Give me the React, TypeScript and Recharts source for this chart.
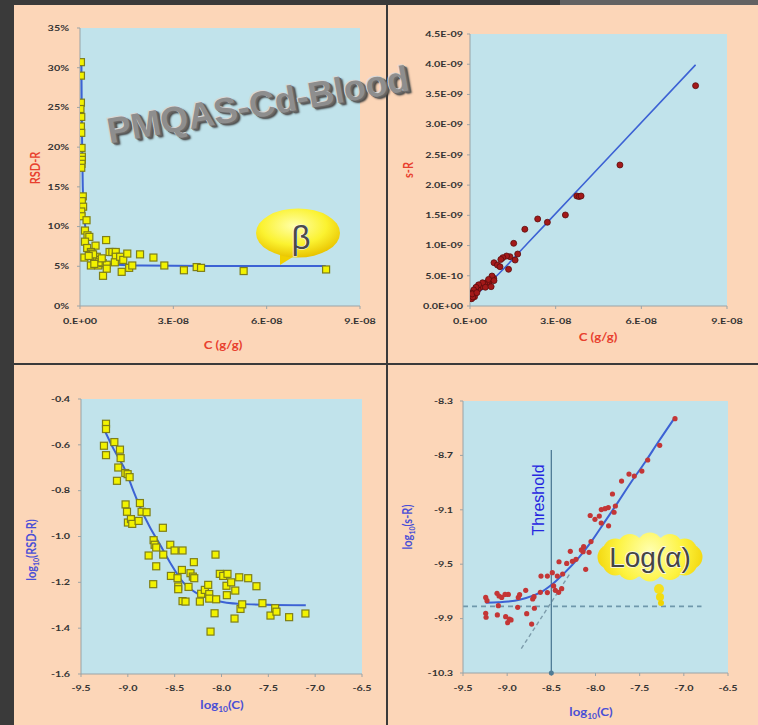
import React from 'react';
import { ScatterChart, Scatter, XAxis, YAxis, CartesianGrid, ReferenceLine, ReferenceDot } from 'recharts';

// ---------- DATA ----------
// Panel 1: C (in units of 1e-9 g/g) vs RSD-R (%)
const rsdPoints: number[][] = [
  [0.3, 30.7], [0.3, 29.0], [0.3, 25.6], [0.15, 24.8], [0.4, 23.8], [0.3, 22.6], [0.4, 21.8], [0.5, 19.9],
  [0.6, 18.8], [0.6, 18.4], [0.5, 17.9], [0.4, 17.4], [0.9, 13.8], [0.6, 13.2], [1.0, 12.5], [0.4, 11.9],
  [0.5, 11.3], [2.1, 10.8], [1.6, 9.5], [2.4, 8.9], [3.0, 8.7], [1.6, 8.1], [8.4, 8.3], [5.0, 7.6],
  [2.3, 7.3], [3.5, 6.8], [1.4, 6.1], [3.8, 6.6], [4.5, 5.9], [5.4, 6.2], [6.4, 5.8], [3.5, 5.1],
  [5.9, 5.1], [7.3, 5.4], [8.6, 5.2], [7.4, 3.8], [8.6, 4.7], [9.5, 6.8], [10.4, 6.8], [11.5, 6.8],
  [11.5, 6.2], [11.2, 5.5], [12.9, 6.2], [13.9, 5.8], [15.2, 6.6], [13.4, 4.3], [15.8, 4.8], [16.8, 5.1],
  [19.3, 6.5], [23.6, 6.1], [27.1, 5.1], [33.4, 4.5], [37.5, 4.9], [38.9, 4.8], [52.6, 4.4], [79.1, 4.6],
  [4.2, 6.5], [6.0, 5.5], [2.8, 6.3], [4.6, 5.3], [7.0, 6.0],
];
const rsdCurve: number[][] = [
  [0.45, 30.6], [0.55, 25], [0.7, 20], [0.9, 15], [1.2, 12], [1.7, 10], [2.3, 8.5], [3, 7.4], [4.5, 6.1],
  [7, 5.5], [12, 5.2], [20, 5.1], [40, 5.05], [79, 5.05],
];

// Panel 2: C (1e-9 g/g) vs s-R (1e-9 g/g)
const sPoints: number[][] = [
  [79.0, 3.645], [52.5, 2.333], [37.4, 1.82], [38.2, 1.81], [38.9, 1.82], [33.4, 1.506], [27.1, 1.385],
  [23.7, 1.44], [19.2, 1.27], [15.3, 1.037], [16.7, 0.86], [15.8, 0.76], [13.5, 0.607], [14.0, 0.816],
  [12.8, 0.827], [11.5, 0.80], [10.8, 0.77], [8.4, 0.716], [9.6, 0.678], [10.5, 0.65],
  [8.3, 0.458], [7.5, 0.43], [6.8, 0.40], [6.0, 0.39], [5.1, 0.364], [4.2, 0.331], [3.6, 0.309],
  [2.8, 0.276], [1.9, 0.253], [1.3, 0.22], [0.7, 0.182], [0.5, 0.144], [0.3, 0.127], [7.7, 0.496],
  [6.5, 0.44], [4.4, 0.385], [5.4, 0.31], [3.0, 0.35], [2.1, 0.31], [1.3, 0.265], [0.5, 0.21],
  [1.6, 0.154], [0.4, 0.17], [0.6, 0.12], [1.0, 0.15], [0.8, 0.2], [2.4, 0.22], [7.4, 0.32], [8.4, 0.42],
];
const sLine: number[][] = [[0.3, 0.16], [3, 0.23], [6, 0.35], [10, 0.53], [20, 1.03], [40, 2.03], [79, 3.99]];

// Panel 3: log10(C) vs log10(RSD-R)
const logRsdPoints: number[][] = [
  [-9.233, -0.508], [-9.233, -0.531], [-9.255, -0.604], [-9.233, -0.645], [-9.144, -0.588], [-9.084, -0.621],
  [-9.077, -0.658], [-9.102, -0.699], [-9.116, -0.757], [-9.027, -0.723], [-9.002, -0.728], [-8.981, -0.741],
  [-9.024, -0.860], [-9.009, -0.892], [-8.999, -0.939], [-8.967, -0.924], [-8.953, -0.945], [-8.885, -0.932],
  [-8.871, -0.854], [-8.853, -0.892], [-8.800, -0.894], [-8.626, -0.962], [-8.725, -1.016], [-8.714, -1.036],
  [-8.697, -1.048], [-8.778, -1.083], [-8.622, -1.079], [-8.697, -1.130], [-8.729, -1.208], [-8.547, -1.036],
  [-8.501, -1.061], [-8.416, -1.061], [-8.540, -1.172], [-8.469, -1.182], [-8.462, -1.218], [-8.462, -1.230],
  [-8.423, -1.146], [-8.416, -1.282], [-8.384, -1.284], [-8.352, -1.220], [-8.331, -1.160], [-8.306, -1.175],
  [-8.291, -1.182], [-8.295, -1.112], [-8.231, -1.284], [-8.217, -1.250], [-8.178, -1.233], [-8.142, -1.211],
  [-8.131, -1.251], [-8.131, -1.271], [-8.117, -1.415], [-8.074, -1.335], [-8.057, -1.274], [-8.064, -1.079],
  [-8.018, -1.163], [-7.982, -1.172], [-7.936, -1.163], [-7.947, -1.215], [-7.897, -1.200], [-7.943, -1.256],
  [-7.853, -1.236], [-7.861, -1.358], [-7.811, -1.178], [-7.797, -1.316], [-7.779, -1.296], [-7.715, -1.182],
  [-7.627, -1.217], [-7.563, -1.291], [-7.477, -1.345], [-7.427, -1.313], [-7.413, -1.328], [-7.278, -1.352],
  [-7.104, -1.336],
];
const logRsdCurve: number[][] = [
  [-9.251, -0.534], [-9.15, -0.62], [-9.013, -0.723], [-8.942, -0.800], [-8.871, -0.870], [-8.764, -0.960],
  [-8.657, -1.035], [-8.551, -1.112], [-8.409, -1.200], [-8.231, -1.255], [-8.053, -1.280], [-7.804, -1.294],
  [-7.52, -1.298], [-7.10, -1.300],
];

// Panel 4: log10(C) vs log10(s-R)
const logSPoints: number[][] = [
  [-7.100, -8.430], [-7.273, -8.626], [-7.409, -8.734], [-7.475, -8.815], [-7.561, -8.852], [-7.621, -8.837],
  [-7.705, -8.889], [-7.808, -8.984], [-7.775, -9.072], [-7.855, -9.084], [-7.892, -9.092], [-7.934, -9.098],
  [-7.790, -9.118], [-7.852, -9.218], [-7.935, -9.197], [-7.957, -9.146], [-8.006, -9.170], [-8.060, -9.142],
  [-8.051, -9.334], [-8.073, -9.413], [-8.134, -9.371], [-8.141, -9.408], [-8.160, -9.395], [-8.111, -9.538],
  [-8.221, -9.464], [-8.262, -9.479], [-8.285, -9.405], [-8.326, -9.494], [-8.413, -9.482], [-8.372, -9.572],
  [-8.432, -9.587], [-8.489, -9.562], [-8.545, -9.587], [-8.617, -9.587], [-8.383, -9.680], [-8.417, -9.707],
  [-8.455, -9.692], [-8.474, -9.660], [-8.545, -9.709], [-8.624, -9.707], [-8.711, -9.756], [-8.696, -9.739],
  [-8.790, -9.692], [-8.859, -9.724], [-8.874, -9.744], [-8.987, -9.722], [-9.024, -9.722], [-9.062, -9.744],
  [-9.092, -9.734], [-9.115, -9.714], [-9.228, -9.768], [-9.243, -9.744],
  [-9.243, -9.861], [-9.239, -9.890], [-9.111, -9.873], [-9.100, -9.805], [-9.017, -9.886], [-8.994, -9.930],
  [-8.975, -9.903], [-8.956, -9.910], [-8.881, -9.817], [-8.779, -9.864], [-8.723, -9.940], [-8.692, -9.824],
];
const logSCurve: number[][] = [
  [-9.243, -9.783], [-9.1, -9.780], [-8.987, -9.775], [-8.85, -9.760], [-8.723, -9.735], [-8.6, -9.700],
  [-8.534, -9.670], [-8.45, -9.625], [-8.345, -9.560], [-8.194, -9.455], [-8.043, -9.330], [-7.892, -9.185],
  [-7.741, -9.040], [-7.59, -8.890], [-7.439, -8.750], [-7.288, -8.600], [-7.1, -8.420],
];
const thresholdLine = [{ x: -8.5, y: -8.66 }, { x: -8.5, y: -10.3 }];
const alphaLevelLine = [{ x: -9.5, y: -9.81 }, { x: -6.8, y: -9.81 }];
const betaSlopeLine = [{ x: -8.84, y: -10.12 }, { x: -8.29, y: -9.57 }];

// ticks
const linXTicks = [0, 30, 60, 90];
const linXLabels = ['0.E+00', '3.E-08', '6.E-08', '9.E-08'];
const rsdYTicks = [0, 5, 10, 15, 20, 25, 30, 35];
const rsdYLabels = ['0%', '5%', '10%', '15%', '20%', '25%', '30%', '35%'];
const sYTicks = [0, 0.5, 1, 1.5, 2, 2.5, 3, 3.5, 4, 4.5];
const sYLabels = ['0.0E+00', '5.0E-10', '1.0E-09', '1.5E-09', '2.0E-09', '2.5E-09', '3.0E-09', '3.5E-09', '4.0E-09', '4.5E-09'];
const logXTicks = [-9.5, -9, -8.5, -8, -7.5, -7, -6.5];
const logXLabels = ['-9.5', '-9.0', '-8.5', '-8.0', '-7.5', '-7.0', '-6.5'];
const logRsdYTicks = [-1.6, -1.4, -1.2, -1.0, -0.8, -0.6, -0.4];
const logRsdYLabels = ['-1.6', '-1.4', '-1.2', '-1.0', '-0.8', '-0.6', '-0.4'];
const logSYTicks = [-10.3, -9.9, -9.5, -9.1, -8.7, -8.3];
const logSYLabels = ['-10.3', '-9.9', '-9.5', '-9.1', '-8.7', '-8.3'];

// ---------- STYLE ----------
const PEACH = '#fcd6b8';
const PLOT_BG = '#c1e3eb';
const DARK = '#3a3a3a';
const AXIS = '#9aa3a6';
const TICK_FONT = 'Lato, "Open Sans", sans-serif';
const RED_T = '#e8402e';
const BLUE_T = '#4a4fd6';
const CURVE = '#3c62d4';

const toXY = (arr: number[][]) => arr.map(([x, y]) => ({ x, y }));

const makeTick = (ticks: number[], labels: string[], anchor: 'middle' | 'end') => (props: any) => {
  const { x, y, payload } = props;
  const i = ticks.findIndex((t) => Math.abs(t - payload.value) < 1e-9);
  return (
    <g transform={`translate(${x},${y})`}>
      <text transform="scale(1.35,1)" textAnchor={anchor} dy="0.35em" fontFamily={TICK_FONT}
        fontSize={8} fontWeight={700} fill="#333">
        {i >= 0 ? labels[i] : String(payload.value)}
      </text>
    </g>
  );
};

const squareShape = (props: any) => (
  <rect x={props.cx - 3.5} y={props.cy - 3.5} width={7} height={7} fill="#f2f200" stroke="#7f7f18" strokeWidth={1.2} />
);
const bigDot = (props: any) => (
  <circle cx={props.cx} cy={props.cy} r={3} fill="#a31919" stroke="#5c0c0c" strokeWidth={0.8} />
);
const smallDot = (props: any) => <circle cx={props.cx} cy={props.cy} r={2.6} fill="#c43636" />;
const noShape = () => <g />;

type PanelProps = {
  left: number; top: number; width: number; height: number;
  margin: { top: number; right: number; left: number; bottom: number };
  yWidth: number; xHeight: number;
  xDomain: number[]; yDomain: number[];
  xTicks: number[]; xLabels: string[]; yTicks: number[]; yLabels: string[];
  xTickMargin: number; yTickMargin: number;
  children?: React.ReactNode; overlay?: React.ReactNode;
};

function ChartPanel(p: PanelProps) {
  return (
    <div style={{ position: 'absolute', left: p.left, top: p.top, width: p.width, height: p.height, background: PEACH, overflow: 'hidden' }}>
      <ScatterChart width={p.width} height={p.height} margin={p.margin}>
        <CartesianGrid fill={PLOT_BG} stroke="none" horizontal={false} vertical={false} />
        <XAxis type="number" dataKey="x" domain={p.xDomain} ticks={p.xTicks} interval={0} height={p.xHeight}
          allowDataOverflow stroke={AXIS} tickSize={3} tickMargin={p.xTickMargin}
          tick={makeTick(p.xTicks, p.xLabels, 'middle')} />
        <YAxis type="number" dataKey="y" domain={p.yDomain} ticks={p.yTicks} interval={0} width={p.yWidth}
          allowDataOverflow stroke={AXIS} tickSize={3} tickMargin={p.yTickMargin}
          tick={makeTick(p.yTicks, p.yLabels, 'end')} />
        {p.children}
      </ScatterChart>
      {p.overlay}
    </div>
  );
}

const titleStyle = (x: number, y: number, color: string, rotate: boolean): React.CSSProperties => ({
  position: 'absolute', left: x, top: y, color, fontFamily: TICK_FONT, fontWeight: 700, fontSize: 11,
  whiteSpace: 'nowrap', lineHeight: '12px',
  transform: rotate ? 'translate(-50%,-50%) rotate(-90deg) scaleY(1.15)' : 'translate(-50%,-50%) scaleX(1.2)',
});
const subStyle: React.CSSProperties = { fontSize: 7, verticalAlign: 'baseline', position: 'relative', top: 3 };

function BetaBubble() {
  return (
    <svg width={372} height={358} style={{ position: 'absolute', left: 0, top: 0, pointerEvents: 'none' }}>
      <defs>
        <radialGradient id="betaGrad" cx="45%" cy="35%" r="65%">
          <stop offset="0%" stopColor="#ffffa8" />
          <stop offset="60%" stopColor="#fbf230" />
          <stop offset="100%" stopColor="#e9c400" />
        </radialGradient>
      </defs>
      <path d="M 266 244 L 266 260 L 282 250 Z" fill="#f0d000" />
      <ellipse cx={284} cy={228} rx={42} ry={24.5} fill="url(#betaGrad)" />
      <text x={287} y={232} textAnchor="middle" dominantBaseline="central" fontFamily='"Liberation Sans", Arial, sans-serif'
        fontSize={33} fill="#4a4a4a" stroke="#f4f4f4" strokeWidth={1.2} paintOrder="stroke">β</text>
    </svg>
  );
}

function AlphaCloud() {
  const cx = 262, cy = 192;
  const bumps = Array.from({ length: 12 }, (_, i) => {
    const a = (i / 12) * Math.PI * 2;
    return { x: cx + 40 * Math.cos(a), y: cy + 12 * Math.sin(a) };
  });
  return (
    <svg width={370} height={360} style={{ position: 'absolute', left: 0, top: 0, pointerEvents: 'none' }}>
      <defs>
        <radialGradient id="cloudGrad" gradientUnits="userSpaceOnUse" cx={cx} cy={cy - 6} r={60}>
          <stop offset="0%" stopColor="#ffffb0" />
          <stop offset="55%" stopColor="#fdf340" />
          <stop offset="100%" stopColor="#f0cf00" />
        </radialGradient>
      </defs>
      <ellipse cx={cx} cy={cy} rx={46} ry={20} fill="url(#cloudGrad)" />
      {bumps.map((b, i) => <circle key={i} cx={b.x} cy={b.y} r={12.5} fill="url(#cloudGrad)" />)}
      <circle cx={271} cy={224} r={5} fill="#f4e020" />
      <circle cx={272} cy={232} r={4} fill="#f2dc10" />
      <circle cx={273} cy={238} r={3} fill="#f0d400" />
      <text x={cx} y={cy} textAnchor="middle" dominantBaseline="central" fontFamily='"Liberation Sans", Arial, sans-serif'
        fontSize={28} fill="#444" stroke="#f6f6f0" strokeWidth={1.4} paintOrder="stroke">Log(α)</text>
    </svg>
  );
}

export default function App() {
  return (
    <div style={{ position: 'absolute', left: 0, top: 0, width: 758, height: 725, background: DARK, overflow: 'hidden' }}>
      <div style={{ position: 'absolute', left: 560, top: 0, width: 198, height: 5, background: '#626262' }} />

      {/* Panel 1 */}
      <ChartPanel left={14} top={5} width={372} height={358}
        margin={{ top: 23, right: 26, left: 0, bottom: 0 }} yWidth={66} xHeight={57}
        xDomain={[0, 90]} yDomain={[0, 35]} xTicks={linXTicks} xLabels={linXLabels}
        yTicks={rsdYTicks} yLabels={rsdYLabels} xTickMargin={12} yTickMargin={8}
        overlay={<>
          <div style={titleStyle(209, 340, RED_T, false)}>C (g/g)</div>
          <div style={titleStyle(21, 163, RED_T, true)}>RSD-R</div>
          <BetaBubble />
        </>}>
        <Scatter data={toXY(rsdCurve)} line={{ stroke: CURVE, strokeWidth: 2 }} lineJointType="monotoneX" shape={noShape} isAnimationActive={false} />
        <Scatter data={toXY(rsdPoints)} shape={squareShape} isAnimationActive={false} />
      </ChartPanel>

      {/* Panel 2 */}
      <ChartPanel left={388} top={5} width={370} height={358}
        margin={{ top: 29, right: 31, left: 0, bottom: 0 }} yWidth={82} xHeight={57}
        xDomain={[0, 90]} yDomain={[0, 4.5]} xTicks={linXTicks} xLabels={linXLabels}
        yTicks={sYTicks} yLabels={sYLabels} xTickMargin={12} yTickMargin={4}
        overlay={<>
          <div style={titleStyle(210, 332, RED_T, false)}>C (g/g)</div>
          <div style={titleStyle(20, 165, RED_T, true)}>s-R</div>
        </>}>
        <Scatter data={toXY(sLine)} line={{ stroke: CURVE, strokeWidth: 1.6 }} lineJointType="monotoneX" shape={noShape} isAnimationActive={false} />
        <Scatter data={toXY(sPoints)} shape={bigDot} isAnimationActive={false} />
      </ChartPanel>

      {/* Panel 3 */}
      <ChartPanel left={14} top={365} width={372} height={360}
        margin={{ top: 34, right: 24, left: 0, bottom: 0 }} yWidth={67} xHeight={51}
        xDomain={[-9.5, -6.5]} yDomain={[-1.6, -0.4]} xTicks={logXTicks} xLabels={logXLabels}
        yTicks={logRsdYTicks} yLabels={logRsdYLabels} xTickMargin={11} yTickMargin={8}
        overlay={<>
          <div style={titleStyle(208, 340, BLUE_T, false)}>log<span style={subStyle}>10</span>(C)</div>
          <div style={titleStyle(18, 185, BLUE_T, true)}>log<span style={subStyle}>10</span>(RSD-R)</div>
        </>}>
        <Scatter data={toXY(logRsdCurve)} line={{ stroke: CURVE, strokeWidth: 2 }} lineJointType="monotoneX" shape={noShape} isAnimationActive={false} />
        <Scatter data={toXY(logRsdPoints)} shape={squareShape} isAnimationActive={false} />
      </ChartPanel>

      {/* Panel 4 */}
      <ChartPanel left={388} top={365} width={370} height={360}
        margin={{ top: 36, right: 30, left: 0, bottom: 0 }} yWidth={75} xHeight={52}
        xDomain={[-9.5, -6.5]} yDomain={[-10.3, -8.3]} xTicks={logXTicks} xLabels={logXLabels}
        yTicks={logSYTicks} yLabels={logSYLabels} xTickMargin={12} yTickMargin={7}
        overlay={<>
          <div style={titleStyle(203, 347, BLUE_T, false)}>log<span style={subStyle}>10</span>(C)</div>
          <div style={titleStyle(20, 162, BLUE_T, true)}>log<span style={subStyle}>10</span>(s-R)</div>
          <div style={{ position: 'absolute', left: 151, top: 135, transform: 'translate(-50%,-50%) rotate(-90deg)', color: '#2626e0', fontFamily: '"Liberation Sans", Arial, sans-serif', fontSize: 16, whiteSpace: 'nowrap' }}>Threshold</div>
          <AlphaCloud />
        </>}>
        <ReferenceLine segment={alphaLevelLine} stroke="#6f98ab" strokeWidth={1.6} strokeDasharray="5 4" ifOverflow="visible" />
        <ReferenceLine segment={betaSlopeLine} stroke="#7d9cab" strokeWidth={1.4} strokeDasharray="4 3" ifOverflow="visible" />
        <ReferenceLine segment={thresholdLine} stroke="#4f7b95" strokeWidth={1.3} ifOverflow="visible" />
        <ReferenceDot x={-8.5} y={-10.3} r={2.5} fill="#4f7b95" stroke="none" ifOverflow="visible" />
        <Scatter data={toXY(logSCurve)} line={{ stroke: CURVE, strokeWidth: 2 }} lineJointType="monotoneX" shape={noShape} isAnimationActive={false} />
        <Scatter data={toXY(logSPoints)} shape={smallDot} isAnimationActive={false} />
      </ChartPanel>

      {/* Watermark */}
      <div style={{
        position: 'absolute', left: 258, top: 105, transform: 'translate(-50%,-50%) rotate(-10deg)',
        fontFamily: '"Liberation Sans", Arial, sans-serif', fontWeight: 700, fontSize: 36, color: '#8e8e8e',
        whiteSpace: 'nowrap', pointerEvents: 'none',
        textShadow: '-1px -1px 0 #d8d8d8, 1px 1px 0 #6a6a6a, 2px 2px 0 #5e5e5e, 3px 3px 2px #3e3e3e',
      }}>PMQAS-Cd-Blood</div>
    </div>
  );
}
